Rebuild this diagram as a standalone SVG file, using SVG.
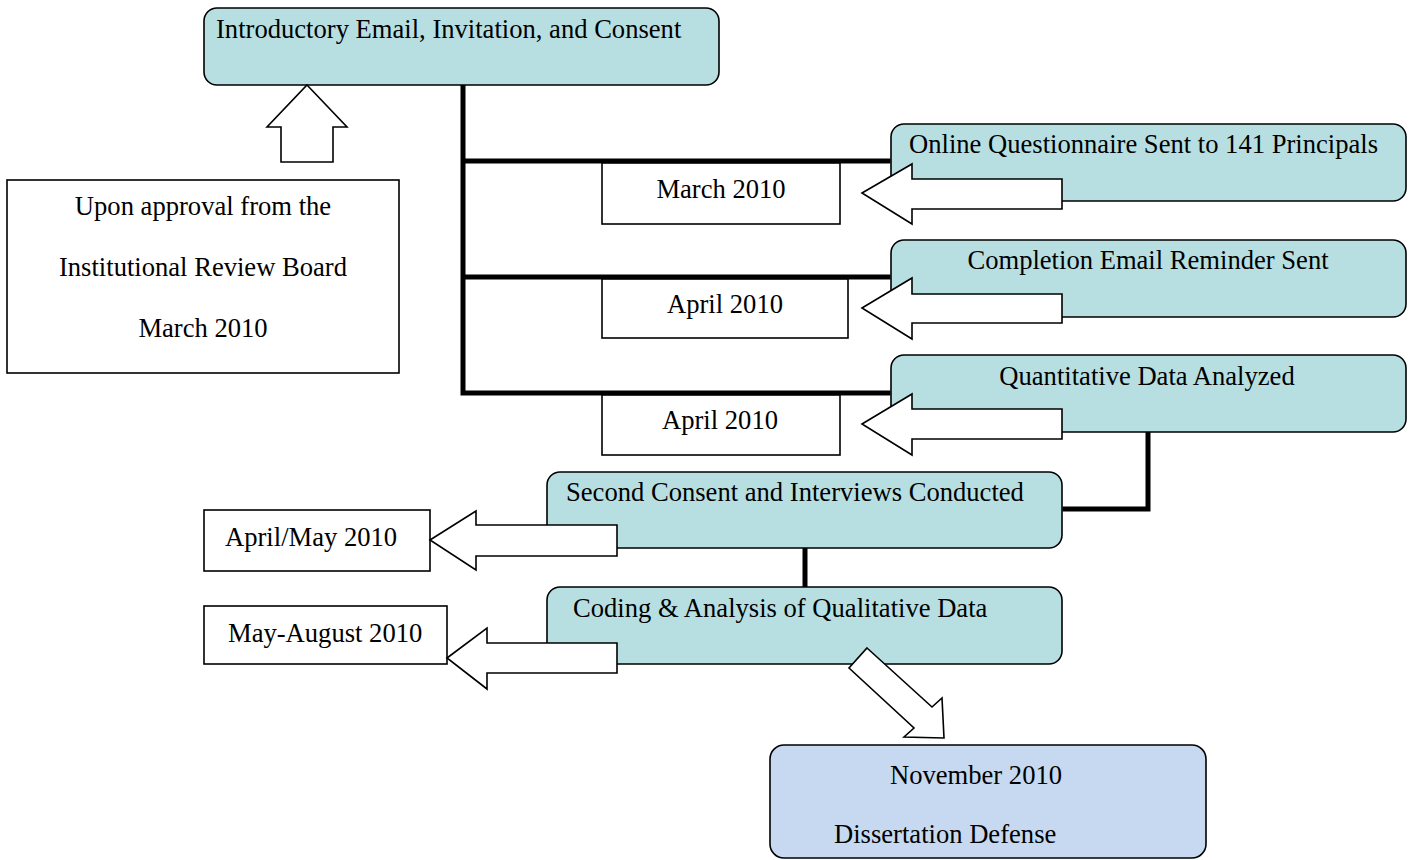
<svg xmlns="http://www.w3.org/2000/svg" width="1411" height="860" viewBox="0 0 1411 860">
<style>
.node{fill:#b7dfe2;stroke:#000;stroke-width:1.6}
.final{fill:#c6d9f0;stroke:#000;stroke-width:1.6}
.box{fill:#fff;stroke:#000;stroke-width:1.6}
.arrow{fill:#fff;stroke:#000;stroke-width:1.6;stroke-linejoin:miter}
.conn{fill:none;stroke:#000;stroke-width:5;stroke-linecap:square}
text{font-family:"Liberation Serif","Times New Roman",serif;font-size:26.6px;fill:#000}
.c{text-anchor:middle}
</style>
<g id="connectors">
<path class="conn" d="M463 87 V393 M463 161 H888 M463 277 H888 M463 393 H888"/>
<path class="conn" d="M1148 434 V509 H1065"/>
<path class="conn" d="M805 550 V585"/>
</g>
<g id="n-intro">
<rect class="node" x="204" y="8" width="515" height="77" rx="13"/>
<text x="216" y="38">Introductory Email, Invitation, and Consent</text>
</g>
<g id="n-irb">
<rect class="box" x="7" y="180" width="392" height="193"/>
<text class="c" x="203" y="215">Upon approval from the</text>
<text class="c" x="203" y="276">Institutional Review Board</text>
<text class="c" x="203" y="337">March 2010</text>
</g>
<g id="a-up">
<polygon class="arrow" points="307,85 347,127 333,127 333,162 281,162 281,127 267,127"/>
</g>
<g id="n-online">
<rect class="node" x="891" y="124" width="515" height="77" rx="13"/>
<text x="909" y="153">Online Questionnaire Sent to 141 Principals</text>
</g>
<g id="n-completion">
<rect class="node" x="891" y="240" width="515" height="77" rx="13"/>
<text class="c" x="1148" y="269">Completion Email Reminder Sent</text>
</g>
<g id="n-quant">
<rect class="node" x="891" y="355" width="515" height="77" rx="13"/>
<text class="c" x="1147" y="385">Quantitative Data Analyzed</text>
</g>
<g id="d-march">
<rect class="box" x="602" y="163" width="238" height="61"/>
<text class="c" x="721" y="198">March 2010</text>
</g>
<g id="d-april1">
<rect class="box" x="602" y="279" width="246" height="59"/>
<text class="c" x="725" y="313">April 2010</text>
</g>
<g id="d-april2">
<rect class="box" x="602" y="395" width="238" height="60"/>
<text class="c" x="720" y="429">April 2010</text>
</g>
<g id="a-1"><polygon class="arrow" points="862,193 912,164 912,179 1062,179 1062,209 912,209 912,224"/></g>
<g id="a-2"><polygon class="arrow" points="862,308 912,278 912,294 1062,294 1062,323 912,323 912,339"/></g>
<g id="a-3"><polygon class="arrow" points="862,424 912,394 912,409 1062,409 1062,439 912,439 912,455"/></g>
<g id="n-second">
<rect class="node" x="547" y="472" width="515" height="76" rx="13"/>
<text x="566" y="501">Second Consent and Interviews Conducted</text>
</g>
<g id="n-coding">
<rect class="node" x="547" y="587" width="515" height="77" rx="13"/>
<text x="573" y="617">Coding &amp; Analysis of Qualitative Data</text>
</g>
<g id="d-aprmay">
<rect class="box" x="204" y="510" width="226" height="61"/>
<text x="225" y="546">April/May 2010</text>
</g>
<g id="d-mayaug">
<rect class="box" x="204" y="606" width="243" height="58"/>
<text x="228" y="642">May-August 2010</text>
</g>
<g id="a-4"><polygon class="arrow" points="430,540 476,511 476,525 617,525 617,556 476,556 476,570"/></g>
<g id="a-5"><polygon class="arrow" points="447,658 487,628 487,643 617,643 617,673 487,673 487,689"/></g>
<g id="a-diag"><polygon class="arrow" points="867,648 932,707 942,698 944,738 904,737 914,728 849,668"/></g>
<g id="n-defense">
<rect class="final" x="770" y="745" width="436" height="113" rx="14"/>
<text class="c" x="976" y="784">November 2010</text>
<text x="834" y="843">Dissertation Defense</text>
</g>
</svg>
